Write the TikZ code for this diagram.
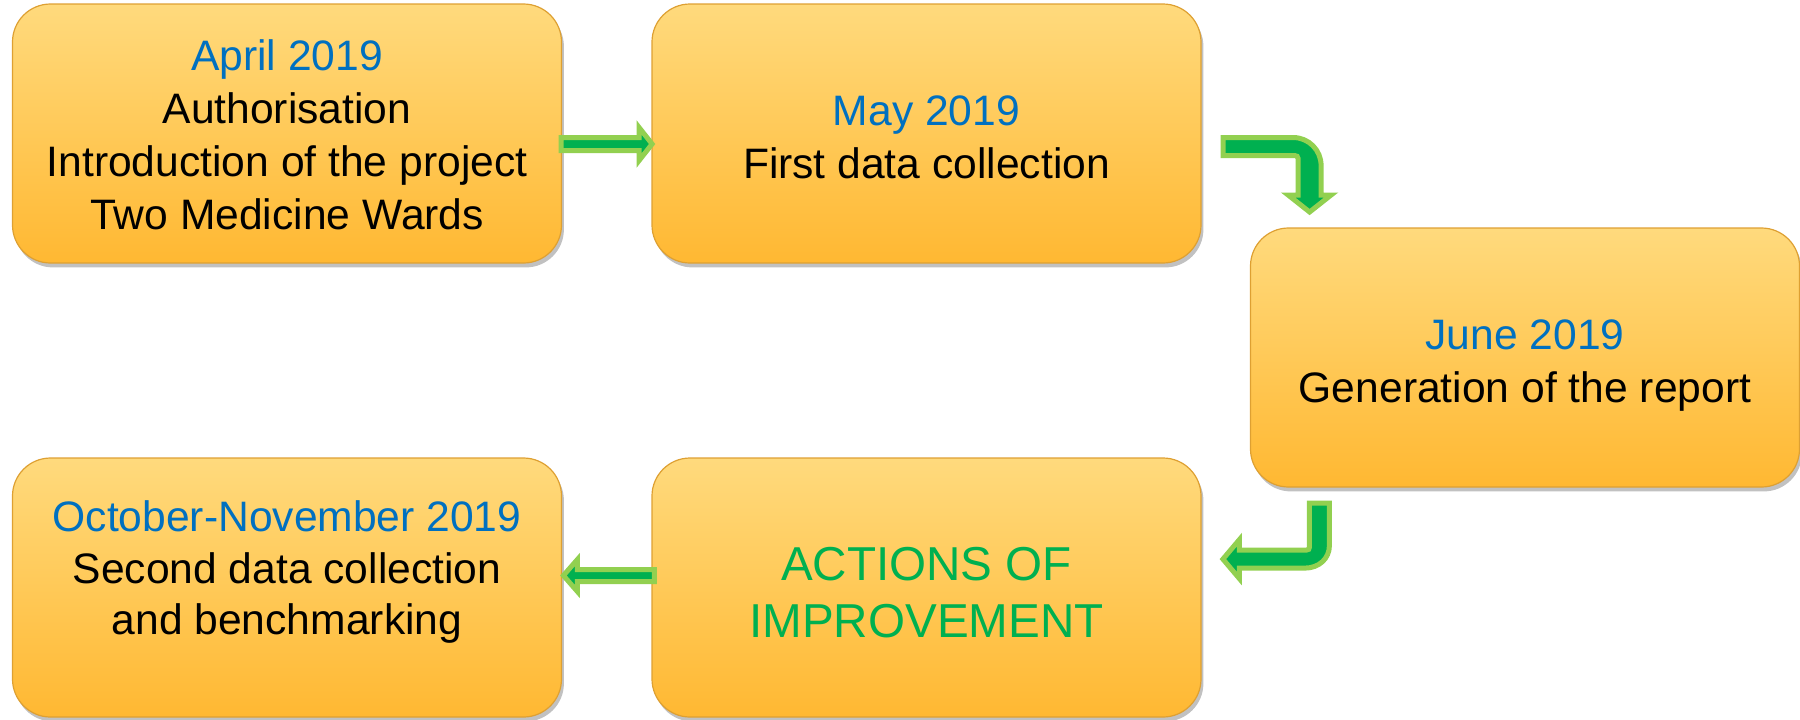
\documentclass[tikz,border=0pt]{standalone}
\usepackage{fontspec}
\setmainfont{Liberation Sans}
\usetikzlibrary{shadows,calc}
\definecolor{boxtop}{RGB}{255,218,125}
\definecolor{boxbot}{RGB}{255,184,50}
\definecolor{boxedge}{RGB}{222,160,50}
\definecolor{dgreen}{RGB}{0,176,80}
\definecolor{lgreen}{RGB}{146,208,80}
\definecolor{dblue}{RGB}{0,112,192}
\tikzset{
  stagebox/.style={draw=boxedge, line width=0.6pt, rounded corners=19pt,
    top color=boxtop, bottom color=boxbot,
    minimum width=274.5pt, minimum height=129.5pt, inner sep=0pt,
    drop shadow={shadow xshift=1.2pt, shadow yshift=-2.2pt, opacity=0.35, fill=black!70}},
  stagetext/.style={align=center, font=\fontsize{21.3}{26.5}\selectfont, inner sep=0pt},
  blockarrow/.style={fill=dgreen, draw=lgreen, line width=2.5pt, line join=miter}
}
\begin{document}
\begin{tikzpicture}[x=0.5pt,y=-0.5pt]
\useasboundingbox (0,0) rectangle (1800,719);
\node[stagebox] (b1) at (287,133.5) {};
\node[stagebox] (b2) at (926.5,133.5) {};
\node[stagebox] (b3) at (1525,357.5) {};
\node[stagebox] (b4) at (926.5,587.5) {};
\node[stagebox] (b5) at (287,587.5) {};
\node[stagetext] (t1) at (287,134.5)
  {{\color{dblue}April 2019}\\Authorisation\\Introduction of the project\\Two Medicine Wards};
\node[stagetext] (t2) at (926.5,137)
  {{\color{dblue}May 2019}\\First data collection};
\node[stagetext] (t3) at (1525,366)
  {{\color{dblue}June 2019}\\Generation of the report};
\node[stagetext, text=dgreen, font=\fontsize{23.8}{28.4}\selectfont] (t4) at (926.5,592.5)
  {ACTIONS OF\\IMPROVEMENT};
\node[stagetext, font=\fontsize{21.3}{25.8}\selectfont] (t5) at (287,572)
  {{\color{dblue}October-November 2019}\\Second data collection\\and benchmarking};
% arrow b1 -> b2
\begin{scope}[shift={(b1.east)}]
\filldraw[blockarrow] (-1,4) -- (77,4) -- (77,-6) -- (90,10.5) -- (77,27) -- (77,17) -- (-1,17) -- cycle;
\end{scope}
% bent arrow b2 -> b3
\begin{scope}[shift={(b2.east)}]
\filldraw[blockarrow] (21.5,4) -- (91.5,4) .. controls (107,4) and (119.5,16.5) .. (119.5,32)
  -- (119.5,61.5) -- (129.5,61.5) -- (108,78.5) -- (86.5,61.5) -- (96.5,61.5)
  -- (96.5,25) .. controls (96.5,23) and (95,22) .. (93,22) -- (21.5,22) -- cycle;
\end{scope}
% bent arrow b3 -> b4
\begin{scope}[shift={(b3.south west)}]
\filldraw[blockarrow] (59.5,15.5) -- (79.5,15.5) -- (79.5,58) .. controls (79.5,71) and (69,80.5) .. (55,80.5)
  -- (-10.5,80.5) -- (-10.5,91) -- (-27,71.5) -- (-10.5,52) -- (-10.5,62.5)
  -- (56.5,62.5) .. controls (58.5,62.5) and (59.5,61.5) .. (59.5,59.5) -- cycle;
\end{scope}
% arrow b4 -> b5
\begin{scope}[shift={(b4.west)}]
\filldraw[blockarrow] (3,-18) -- (-74,-18) -- (-74,-28) -- (-88,-12) -- (-74,4) -- (-74,-6) -- (3,-6) -- cycle;
\end{scope}
\end{tikzpicture}
\end{document}
